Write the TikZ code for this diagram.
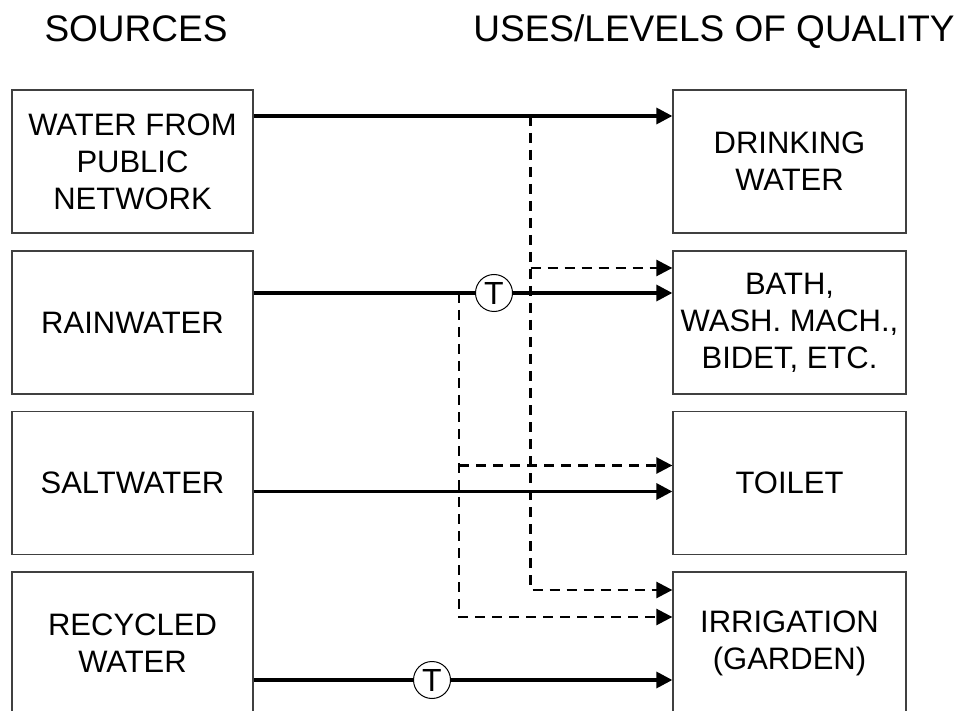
\documentclass[tikz,border=0pt]{standalone}
\usepackage{fontspec}
\setmainfont{Liberation Sans}
\usetikzlibrary{arrows.meta}
\begin{document}
\begin{tikzpicture}[x=1pt,y=-1pt,
  box/.style={draw=black!75,line width=1.3pt,fill=white,align=center,
    minimum height=143pt,inner sep=0pt,font=\fontsize{31}{37}\selectfont},
  lbox/.style={box,minimum width=241pt},
  rbox/.style={box,minimum width=233pt},
  title/.style={anchor=base,font=\fontsize{37}{44}\selectfont},
  tnode/.style={circle,draw=black,line width=1pt,fill=white,minimum size=37pt,
    inner sep=0pt,font=\fontsize{32}{34}\selectfont},
  solidarr/.style={line width=3.3pt,-{Triangle[length=16pt,width=16pt]}},
  solidln/.style={line width=3.3pt},
  dasharr/.style={line width=2.6pt,dash pattern=on 10pt off 7pt,-{Triangle[length=16pt,width=16pt]}},
]
\useasboundingbox (0,0) rectangle (967,711);
\clip (0,0) rectangle (967,711);
% titles
\node[title] (tS) at (136,42) {SOURCES};
\node[title] (tU) at (714,42) {USES/LEVELS OF QUALITY};
% source boxes
\node[lbox] (L1) at (132.5,161.5) {WATER FROM\\PUBLIC\\NETWORK};
\node[lbox] (L2) at (132.5,322.5) {RAINWATER};
\node[lbox] (L3) at (132.5,483) {SALTWATER};
\node[lbox] (L4) at (132.5,643.5) {RECYCLED\\WATER};
% use boxes
\node[rbox] (R1) at (789.5,161.5) {DRINKING\\WATER};
\node[rbox] (R2) at (789.5,322.5) {BATH,\\WASH. MACH.,\\BIDET, ETC.};
\node[rbox] (R3) at (789.5,483) {TOILET};
\node[rbox] (R4) at (789.5,643.5) {IRRIGATION\\(GARDEN)};
% levels
\coordinate (h1) at (0,116);
\coordinate (h2d) at (0,268);
\coordinate (h2) at (0,293);
\coordinate (h3d) at (0,465.5);
\coordinate (h3) at (0,491.5);
\coordinate (h4a) at (0,590);
\coordinate (h4b) at (0,617);
\coordinate (h4) at (0,680);
\coordinate (vA) at (530.5,0);
\coordinate (vB) at (459,0);
\coordinate (jA) at (vA |- h1);
\coordinate (jB) at (vB |- h2);
% treatment nodes
\node[tnode] (T1) at (494,293) {T};
\node[tnode] (T2) at (432,680) {T};
% solid connectors
\draw[solidarr] (L1.east |- h1) -- (R1.west |- h1);
\draw[solidln] (L2.east |- h2) -- (T1);
\draw[solidarr] (T1) -- (R2.west |- h2);
\draw[solidarr] (L3.east |- h3) -- (R3.west |- h3);
\draw[solidln] (L4.east |- h4) -- (T2);
\draw[solidarr] (T2) -- (R4.west |- h4);
% dashed connectors
\draw[dasharr] (jA) -- (vA |- h4a) -- (R4.west |- h4a);
\draw[dasharr] (vA |- h2d) -- (R2.west |- h2d);
\draw[dasharr] (jB) -- (vB |- h4b) -- (R4.west |- h4b);
\draw[dasharr] (vB |- h3d) -- (R3.west |- h3d);
\end{tikzpicture}
\end{document}
